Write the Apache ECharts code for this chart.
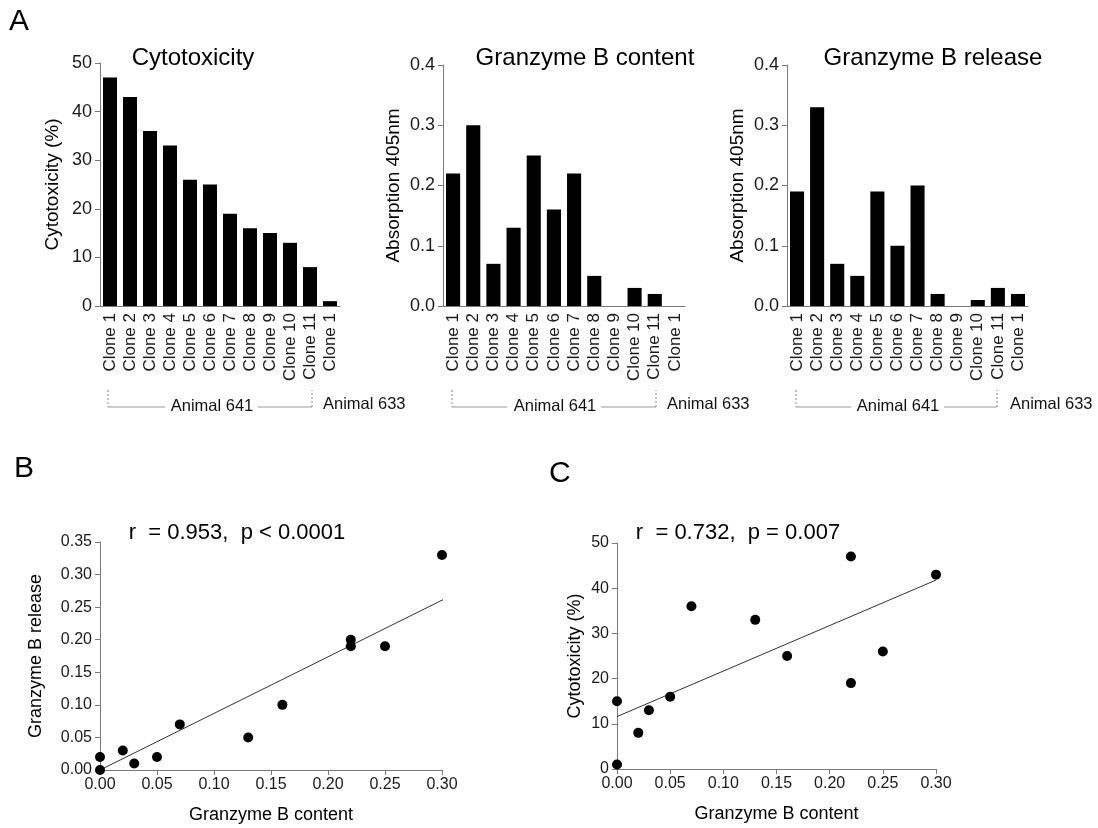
<!DOCTYPE html>
<html>
<head>
<meta charset="utf-8">
<script src="https://cdn.jsdelivr.net/npm/echarts@6/dist/echarts.min.js"></script>
<style>
  html, body { margin: 0; padding: 0; background: #fff; }
  #chart { width: 1098px; height: 828px; }
</style>
</head>
<body>
<div id="chart"></div>
<script>
// categories (11 clones of animal 641, 1 clone of animal 633)
const clones = ['Clone 1','Clone 2','Clone 3','Clone 4','Clone 5','Clone 6','Clone 7','Clone 8','Clone 9','Clone 10','Clone 11','Clone 1'];
// values
const cytotoxicity = [47, 43, 36, 33, 26, 25, 19, 16, 15, 13, 8, 1];
const gzbContent = [0.22, 0.30, 0.07, 0.13, 0.25, 0.16, 0.22, 0.05, 0, 0.03, 0.02, 0];
const gzbRelease = [0.19, 0.33, 0.07, 0.05, 0.19, 0.10, 0.20, 0.02, 0, 0.01, 0.03, 0.02];
// regression lines (end points)
const fitB = [[0, 0], [0.305, 0.265]];
const fitC = [[0, 11.6], [0.30, 41.8]];

const FONT = '"Liberation Sans", Arial, Helvetica, sans-serif';
const AXIS_COLOR = '#7a7a7a';
const TXT = '#1a1a1a';

function barX(i){
  return {
    type: 'category', gridIndex: i, data: clones,
    axisTick: { show: false },
    axisLine: { lineStyle: { color: AXIS_COLOR, width: 1 } },
    axisLabel: { rotate: 90, interval: 0, margin: 7, color: TXT, fontSize: 17, fontFamily: FONT }
  };
}
function barY(i, max, interval, name, gap, digits){
  return {
    type: 'value', gridIndex: i, min: 0, max: max, interval: interval,
    name: name, nameLocation: 'middle', nameGap: gap,
    nameTextStyle: { color: '#000', fontSize: 19, fontFamily: FONT },
    splitLine: { show: false },
    axisLine: { show: true, lineStyle: { color: AXIS_COLOR, width: 1 } },
    axisTick: { show: true, length: 5, lineStyle: { color: AXIS_COLOR } },
    axisLabel: { margin: 8, color: TXT, fontSize: 18, fontFamily: FONT,
      formatter: v => v.toFixed(digits) }
  };
}
function scatX(i){
  return {
    type: 'value', gridIndex: i, min: 0, max: 0.30, interval: 0.05,
    name: 'Granzyme B content', nameLocation: 'middle', nameGap: 36,
    nameTextStyle: { color: '#000', fontSize: 18, fontFamily: FONT },
    splitLine: { show: false },
    axisLine: { lineStyle: { color: AXIS_COLOR, width: 1 } },
    axisTick: { show: true, length: 5, lineStyle: { color: AXIS_COLOR } },
    axisLabel: { margin: 7, color: TXT, fontSize: 16, fontFamily: FONT,
      formatter: v => v.toFixed(2) }
  };
}
function scatY(i, max, interval, name, gap, digits){
  return {
    type: 'value', gridIndex: i, min: 0, max: max, interval: interval,
    name: name, nameLocation: 'middle', nameGap: gap,
    nameTextStyle: { color: '#000', fontSize: 18, fontFamily: FONT },
    splitLine: { show: false },
    axisLine: { show: true, lineStyle: { color: AXIS_COLOR, width: 1 } },
    axisTick: { show: true, length: 5, lineStyle: { color: AXIS_COLOR } },
    axisLabel: { margin: 8, color: TXT, fontSize: 16, fontFamily: FONT,
      formatter: v => v.toFixed(digits) }
  };
}
function bars(i, data){
  return { type: 'bar', xAxisIndex: i, yAxisIndex: i, data: data,
    barCategoryGap: '30%', itemStyle: { color: '#000' }, silent: true };
}
function dots(i, xs, ys){
  return { type: 'scatter', xAxisIndex: i, yAxisIndex: i, symbolSize: 10, z: 5,
    data: xs.map((x, k) => [x, ys[k]]), itemStyle: { color: '#000', opacity: 1 }, silent: true };
}
function fit(i, data){
  return { type: 'line', xAxisIndex: i, yAxisIndex: i, data: data, symbol: 'none', clip: false,
    lineStyle: { color: '#333', width: 1 }, silent: true };
}
// bracket under the 11 clones of animal 641: dotted ends, thin grey line
function bracket(l, tl, tr, r, cx){
  const dot = { stroke: '#888', lineWidth: 1, lineDash: [2, 2] };
  const solid = { stroke: '#999', lineWidth: 1 };
  return [
    { type: 'line', shape: { x1: l, y1: 390, x2: l, y2: 407 }, style: dot },
    { type: 'line', shape: { x1: l, y1: 407, x2: tl, y2: 407 }, style: solid },
    { type: 'line', shape: { x1: tr, y1: 407, x2: r, y2: 407 }, style: solid },
    { type: 'line', shape: { x1: r, y1: 407, x2: r, y2: 390 }, style: dot },
    { type: 'text', x: cx, y: 406, style: { text: 'Animal 641', font: '16.5px ' + FONT, fill: '#111', align: 'center', verticalAlign: 'middle' } }
  ];
}
function label633(x){
  return { type: 'text', x: x, y: 404, style: { text: 'Animal 633', font: '16.5px ' + FONT, fill: '#111', align: 'left', verticalAlign: 'middle' } };
}
function panel(t, x, y){
  return { type: 'text', x: x, y: y, style: { text: t, font: '30px ' + FONT, fill: '#000' } };
}
function ttl(text, x, y, size){
  return { text: text, left: x, top: y, textAlign: 'center',
    textStyle: { fontSize: size, fontWeight: 'normal', color: '#000', fontFamily: FONT } };
}

const chart = echarts.init(document.getElementById('chart'));
const option = {
  backgroundColor: '#fff',
  animation: false,
  title: [
    ttl('Cytotoxicity', 188, 41, 24),
    ttl('Granzyme B content', 580, 41, 24),
    ttl('Granzyme B release', 928, 41, 24),
    ttl('r  = 0.953,  p < 0.0001', 232, 517, 22),
    ttl('r  = 0.732,  p = 0.007', 733, 517, 22)
  ],
  grid: [
    { left: 100, top: 63, width: 240, height: 243 },
    { left: 443, top: 65, width: 242, height: 241 },
    { left: 787, top: 65, width: 241, height: 241 },
    { left: 100, top: 542, width: 342, height: 228 },
    { left: 617, top: 543, width: 319, height: 226 }
  ],
  xAxis: [barX(0), barX(1), barX(2), scatX(3), scatX(4)],
  yAxis: [
    barY(0, 50, 10, 'Cytotoxicity (%)', 38, 0),
    barY(1, 0.4, 0.1, 'Absorption 405nm', 40, 1),
    barY(2, 0.4, 0.1, 'Absorption 405nm', 40, 1),
    scatY(3, 0.35, 0.05, 'Granzyme B release', 55, 2),
    scatY(4, 50, 10, 'Cytotoxicity (%)', 33, 0)
  ],
  series: [
    bars(0, cytotoxicity),
    bars(1, gzbContent),
    bars(2, gzbRelease),
    fit(3, fitB),
    dots(3, gzbContent, gzbRelease),
    fit(4, fitC),
    dots(4, gzbContent, cytotoxicity)
  ],
  graphic: [
    panel('A', 9, 7),
    panel('B', 14, 454),
    panel('C', 549, 459),
    ...bracket(108, 165, 258, 312, 212),
    label633(323),
    ...bracket(452, 507, 601, 656, 555),
    label633(667),
    ...bracket(796, 851, 944, 997, 898),
    label633(1010)
  ]
};
chart.setOption(option);
window.addEventListener('resize', function() {
  chart.resize();
});
</script>
</body>
</html>
